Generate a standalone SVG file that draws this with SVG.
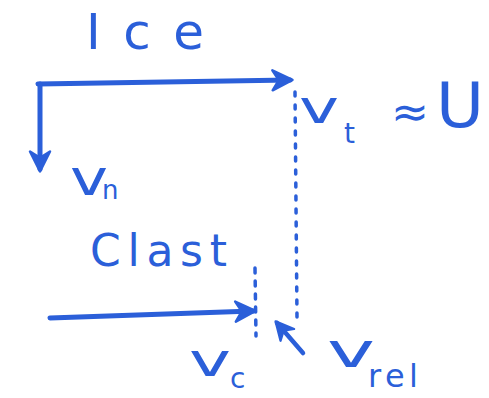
<svg xmlns="http://www.w3.org/2000/svg" width="489" height="398" viewBox="0 0 489 398">
<style>
.ink{stroke:#2b5fd9;fill:none;stroke-linecap:round;stroke-linejoin:round}
.arrow{stroke-width:5}
.dot{stroke-width:3.5;stroke-dasharray:4 9}
.t{fill:#2b5fd9;font-family:"DejaVu Sans",sans-serif}
</style>
<defs>
<marker id="head" viewBox="0 0 10 10" refX="8" refY="5" markerWidth="5" markerHeight="5" orient="auto" markerUnits="strokeWidth">
<path d="M1,1 L9,5 L1,9 L3.5,5 Z" fill="#2b5fd9" stroke="#2b5fd9" stroke-width="1" stroke-linejoin="round"/>
</marker>
</defs>
<rect width="489" height="398" fill="#ffffff"/>
<g id="connectors">
<path class="ink arrow" d="M38,84 L290,80" marker-end="url(#head)"/>
<path class="ink arrow" d="M40,84 L40,169" marker-end="url(#head)"/>
<path class="ink arrow" d="M50,318 L253,311" marker-end="url(#head)"/>
<path class="ink arrow" d="M303,353 L277,323" marker-end="url(#head)" style="stroke-width:4.5"/>
<path class="ink dot" d="M295,92 L297,318"/>
<path class="ink dot" d="M255,268 L256,336" style="stroke-dasharray:5 8"/>
</g>
<g id="label-ice"><text class="t" x="86" y="49" font-size="50" textLength="118" lengthAdjust="spacing">Ice</text></g>
<g id="label-vt">
<text class="t" x="299" y="123" font-size="46" textLength="40" lengthAdjust="spacingAndGlyphs">v</text>
<text class="t" x="344" y="143" font-size="28">t</text>
<text class="t" x="391" y="127" font-size="44" textLength="38" lengthAdjust="spacingAndGlyphs">≈</text>
<text class="t" x="436" y="127" font-size="62" textLength="48" lengthAdjust="spacingAndGlyphs">U</text>
</g>
<g id="label-vn">
<text class="t" x="70" y="195" font-size="50" textLength="38" lengthAdjust="spacingAndGlyphs">v</text>
<text class="t" x="102" y="199" font-size="26">n</text>
</g>
<g id="label-clast"><text class="t" x="90" y="266" font-size="44" textLength="137" lengthAdjust="spacing">Clast</text></g>
<g id="label-vc">
<text class="t" x="189" y="376" font-size="46" textLength="42" lengthAdjust="spacingAndGlyphs">v</text>
<text class="t" x="230" y="388" font-size="28">c</text>
</g>
<g id="label-vrel">
<text class="t" x="327" y="367" font-size="48" textLength="48" lengthAdjust="spacingAndGlyphs">v</text>
<text class="t" x="368" y="387" font-size="32" textLength="50" lengthAdjust="spacing">rel</text>
</g>
</svg>
